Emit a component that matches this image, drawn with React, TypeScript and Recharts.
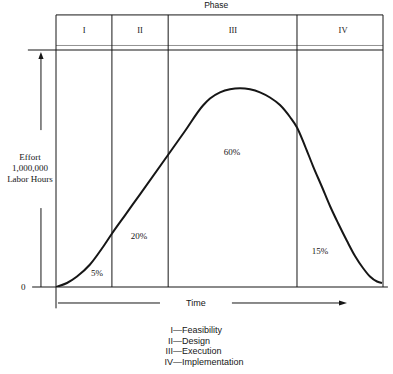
import { ComposedChart, Line, XAxis, YAxis, ReferenceLine, ReferenceDot } from "recharts";

// effort curve, time in % of project duration, effort in % of the top line
const TIME = [0, 3.36, 6.42, 10.4, 14.37, 17.13, 21.1, 25.69, 34.25, 39.45, 44.95, 47.09, 50.15, 53.21, 56.27, 59.33, 62.39, 65.44, 68.5, 71.56, 73.7, 76.15, 78.59, 81.35, 83.79, 86.24, 88.99, 91.44, 93.88, 96.02, 98.17, 99.69];
const EFFORT = [0, 1.69, 4.43, 9.49, 16.88, 22.57, 30.25, 39.11, 55.7, 65.82, 76.58, 79.54, 82.15, 83.46, 83.84, 83.42, 82.15, 79.96, 76.79, 71.73, 67.3, 59.49, 51.05, 42.19, 34.18, 27.0, 19.41, 13.08, 8.02, 4.43, 2.32, 1.69];

const PHASES = ["I", "II", "III", "IV"];
const PHASE_NAMES = ["Feasibility", "Design", "Execution", "Implementation"];
const PHASE_BOUNDS = [0, 17.1, 34.3, 73.7, 100];
const SHARES = ["5%", "20%", "60%", "15%"];
const Y_LABEL = ["Effort", "1,000,000", "Labor Hours"];

const data = TIME.map((t, i) => ({ t, effort: EFFORT[i] }));

const W = 393;
const H = 374;
const INK = "#161616";
const SERIF = "'Liberation Serif', 'DejaVu Serif', serif";
const SANS = "'Liberation Sans', Arial, sans-serif";

// layout, in data units
const BOX_TOP = 114.8;
const HEADER_RULE = 101.9;
const TOP_RULE = 100;
const TIME_Y = -6.75;
const Y_ARROW_X = -4.6;
const PHASE_LABEL_T = [8.6, 25.7, 54.1, 87.8];
const SHARE_T = [12.5, 25.4, 53.8, 80.7];
const SHARE_E = [5.8, 21.5, 57, 15.2];
const LEGEND_E = [-18.1, -22.8, -27.0, -31.6];

function Txt(text: string, opts: { size?: number; font?: string; anchor?: string } = {}) {
  return (p: any) => (
    <text
      x={p.cx}
      y={p.cy}
      textAnchor={opts.anchor ?? "middle"}
      dominantBaseline="central"
      fontSize={opts.size ?? 9}
      fontFamily={opts.font ?? SERIF}
      fill={INK}
    >
      {text}
    </text>
  );
}

const upArrow = (p: any) => (
  <polygon points={`${p.cx},${p.cy} ${p.cx - 2.6},${p.cy + 7} ${p.cx + 2.6},${p.cy + 7}`} fill={INK} />
);
const rightArrow = (p: any) => (
  <polygon points={`${p.cx},${p.cy} ${p.cx - 8},${p.cy - 2.5} ${p.cx - 8},${p.cy + 2.5}`} fill={INK} />
);

function seg(key: string, x1: number, y1: number, x2: number, y2: number, width = 1, color = INK) {
  return (
    <ReferenceLine
      key={key}
      segment={[{ x: x1, y: y1 }, { x: x2, y: y2 }]}
      ifOverflow="visible"
      stroke={color}
      strokeWidth={width}
    />
  );
}

export default function App() {
  return (
    <div style={{ position: "absolute", left: 0, top: 0, width: W, height: H, background: "#fff" }}>
      <ComposedChart width={W} height={H} data={data} margin={{ top: 50, right: 10, bottom: 87, left: 56 }}>
        <XAxis type="number" dataKey="t" domain={[0, 100]} hide allowDataOverflow />
        <YAxis type="number" domain={[0, 100]} hide allowDataOverflow />

        {/* phase box */}
        {seg("box-top", 0, BOX_TOP, 100, BOX_TOP)}
        {seg("hdr", 0, HEADER_RULE, 100, HEADER_RULE, 0.8, "#777")}
        {seg("top", -8.6, TOP_RULE, 100, TOP_RULE, 1.2)}
        {seg("base", -7.3, 0, 101.5, 0, 1.2)}
        {seg("left", 0, BOX_TOP, 0, -9)}
        {PHASE_BOUNDS.slice(1).map((b, i) => seg(`div-${i}`, b, BOX_TOP, b, 0))}

        {/* effort axis arrow */}
        {seg("ya-lo", Y_ARROW_X, 0, Y_ARROW_X, 33.3)}
        {seg("ya-hi", Y_ARROW_X, 66.2, Y_ARROW_X, 97)}
        <ReferenceDot x={Y_ARROW_X} y={99.2} r={0} ifOverflow="visible" shape={upArrow} />

        {/* time arrow */}
        {seg("ta-l", 0.6, TIME_Y, 31.8, TIME_Y)}
        {seg("ta-r", 53.8, TIME_Y, 87, TIME_Y)}
        <ReferenceDot x={89} y={TIME_Y} r={0} ifOverflow="visible" shape={rightArrow} />
        <ReferenceDot x={42.8} y={TIME_Y} r={0} ifOverflow="visible" shape={Txt("Time", { font: SANS, size: 9 })} />

        <Line
          type="monotone"
          dataKey="effort"
          stroke={INK}
          strokeWidth={2}
          dot={false}
          isAnimationActive={false}
        />

        <ReferenceDot x={49} y={119} r={0} ifOverflow="visible" shape={Txt("Phase", { font: SANS, size: 8.5 })} />
        {PHASES.map((ph, i) => (
          <ReferenceDot key={`ph-${i}`} x={PHASE_LABEL_T[i]} y={108.4} r={0} ifOverflow="visible" shape={Txt(ph, { size: 8.5 })} />
        ))}
        {SHARES.map((s, i) => (
          <ReferenceDot key={`sh-${i}`} x={SHARE_T[i]} y={SHARE_E[i]} r={0} ifOverflow="visible" shape={Txt(s)} />
        ))}
        {Y_LABEL.map((s, i) => (
          <ReferenceDot key={`yl-${i}`} x={-7.95} y={54.9 - i * 4.65} r={0} ifOverflow="visible" shape={Txt(s)} />
        ))}
        <ReferenceDot x={-10} y={0} r={0} ifOverflow="visible" shape={Txt("0")} />

        {PHASES.map((ph, i) => (
          <ReferenceDot key={`lg-n-${i}`} x={35.8} y={LEGEND_E[i]} r={0} ifOverflow="visible" shape={Txt(ph, { font: SANS, anchor: "end" })} />
        ))}
        {PHASE_NAMES.map((n, i) => (
          <ReferenceDot key={`lg-t-${i}`} x={35.8} y={LEGEND_E[i]} r={0} ifOverflow="visible" shape={Txt(`\u2014${n}`, { font: SANS, anchor: "start" })} />
        ))}
      </ComposedChart>
    </div>
  );
}
